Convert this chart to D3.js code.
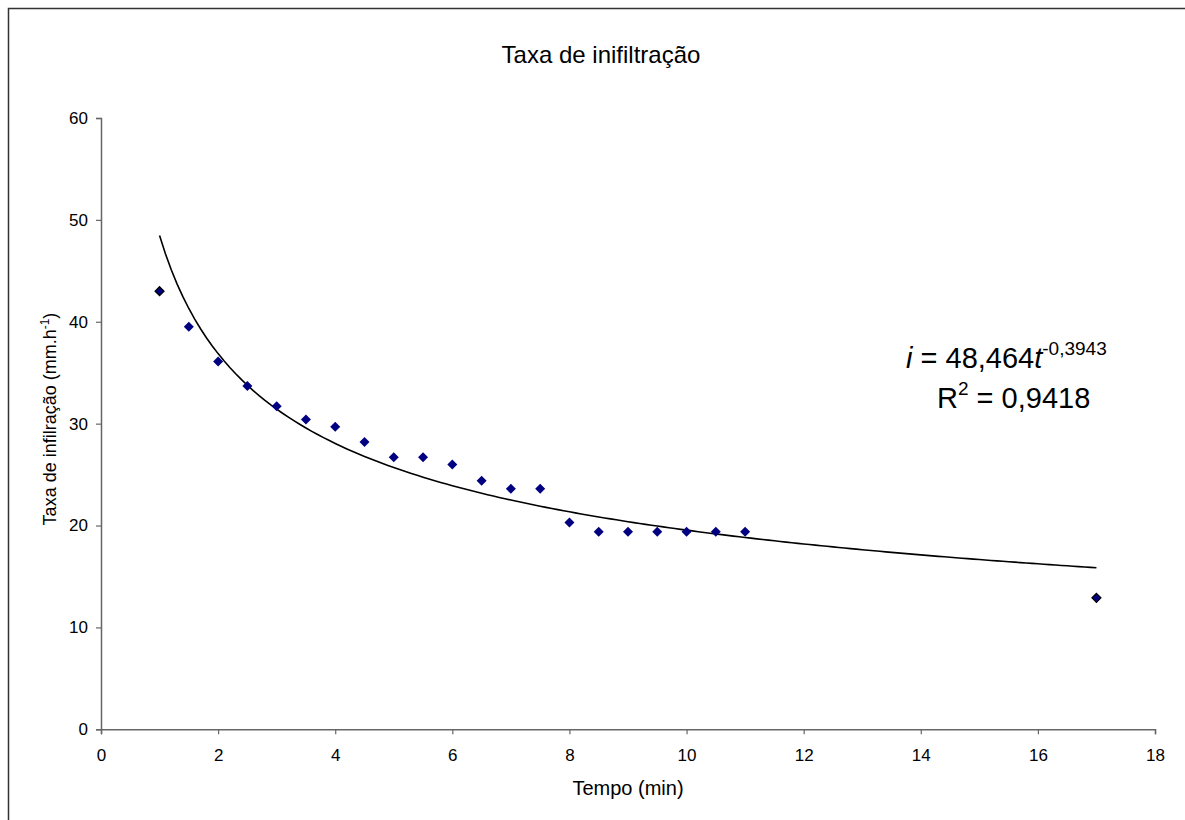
<!DOCTYPE html>
<html>
<head>
<meta charset="utf-8">
<script src="https://cdn.jsdelivr.net/npm/d3@7"></script>
<style>
    body { margin: 0; background: #fff; }
    svg text { font-family: "Liberation Sans", Arial, sans-serif; fill: #000; }
</style>
</head>
<body>
<div id="chart"></div>
<script>
// tempo (min) and taxa de infiltração (mm/h)
const tempo = [1, 1.5, 2, 2.5, 3, 3.5, 4, 4.5, 5, 5.5, 6, 6.5, 7, 7.5, 8, 8.5, 9, 9.5, 10, 10.5, 11, 17];
const taxa = [43.0, 39.5, 36.1, 33.7, 31.7, 30.4, 29.7, 28.2, 26.7, 26.7, 26.0, 24.4, 23.6, 23.6, 20.3, 19.4, 19.4, 19.4, 19.4, 19.4, 19.4, 12.9];
const xTicks = [0, 2, 4, 6, 8, 10, 12, 14, 16, 18];
const yTicks = [0, 10, 20, 30, 40, 50, 60];
// power trendline shown on the chart: i = a * t^b
const trendA = 48.464;
const trendB = -0.3943;

const width = 1185, height = 820;

const svg = d3.select("#chart").append("svg")
    .attr("width", width)
    .attr("height", height);

// outer chart frame (only left and top edges visible)
svg.append("path")
    .attr("d", `M8.5,${height} L8.5,8.5 L${width},8.5`)
    .attr("fill", "none")
    .attr("stroke", "#333")
    .attr("stroke-width", 1.5);

const xScale = d3.scaleLinear().domain([0, 18]).range([101, 1155]);
const yScale = d3.scaleLinear().domain([0, 60]).range([729.3, 118]);

const axisColor = "#666";

// x axis
const xAxisG = svg.append("g")
    .attr("transform", `translate(0,${yScale(0)})`)
    .call(d3.axisBottom(xScale).tickValues(xTicks).tickSize(5).tickPadding(15).tickFormat(d3.format("d")));
xAxisG.select(".domain").attr("stroke", axisColor).attr("stroke-width", 1.5);
xAxisG.selectAll(".tick line").attr("stroke", axisColor).attr("stroke-width", 1.2);
xAxisG.selectAll(".tick text").style("font-size", "17px");

// y axis
const yAxisG = svg.append("g")
    .attr("transform", `translate(${xScale(0)},0)`)
    .call(d3.axisLeft(yScale).tickValues(yTicks).tickSize(5).tickPadding(8).tickFormat(d3.format("d")));
yAxisG.select(".domain").attr("stroke", axisColor).attr("stroke-width", 1.5);
yAxisG.selectAll(".tick line").attr("stroke", axisColor).attr("stroke-width", 1.2);
yAxisG.selectAll(".tick text").style("font-size", "17px");

// title
svg.append("text")
    .attr("x", 601)
    .attr("y", 63)
    .attr("text-anchor", "middle")
    .style("font-size", "24px")
    .text("Taxa de inifiltração");

// x axis label
svg.append("text")
    .attr("x", 628)
    .attr("y", 795)
    .attr("text-anchor", "middle")
    .style("font-size", "20px")
    .text("Tempo (min)");

// y axis label
const yLab = svg.append("text")
    .attr("transform", "translate(56,419) rotate(-90)")
    .attr("text-anchor", "middle")
    .style("font-size", "18px");
yLab.append("tspan").text("Taxa de infilração (mm.h");
yLab.append("tspan").attr("dy", -7).style("font-size", "12px").text("-1");
yLab.append("tspan").attr("dy", 7).text(")");

// trendline
const tLine = d3.range(1, 17.001, 0.1);
const line = d3.line()
    .x(t => xScale(t))
    .y(t => yScale(trendA * Math.pow(t, trendB)));
svg.append("path")
    .datum(tLine)
    .attr("d", line)
    .attr("fill", "none")
    .attr("stroke", "#000")
    .attr("stroke-width", 1.6);

// data points (diamonds)
const pts = tempo.map((t, i) => ({ t: t, v: taxa[i], edge: i === 0 || i === tempo.length - 1 }));
svg.selectAll(".pt")
    .data(pts)
    .enter().append("path")
    .attr("class", "pt")
    .attr("transform", d => `translate(${xScale(d.t)},${yScale(d.v)})`)
    .attr("d", d => d.edge ? "M0,-4.5L4.5,0L0,4.5L-4.5,0Z" : "M0,-5L5,0L0,5L-5,0Z")
    .attr("fill", "#000080")
    .attr("stroke", d => d.edge ? "#000" : "none")
    .attr("stroke-width", 1.2);

// equation label
const eq = svg.append("text")
    .attr("x", 906)
    .attr("y", 368)
    .style("font-size", "29px");
eq.append("tspan").style("font-style", "italic").text("i");
eq.append("tspan").text(" = 48,464");
eq.append("tspan").style("font-style", "italic").text("t");
eq.append("tspan").attr("dy", -13).style("font-size", "19px").text("-0,3943");

const r2 = svg.append("text")
    .attr("x", 937)
    .attr("y", 408)
    .style("font-size", "29px");
r2.append("tspan").text("R");
r2.append("tspan").attr("dy", -13).style("font-size", "19px").text("2");
r2.append("tspan").attr("dy", 13).text(" = 0,9418");
</script>
</body>
</html>
